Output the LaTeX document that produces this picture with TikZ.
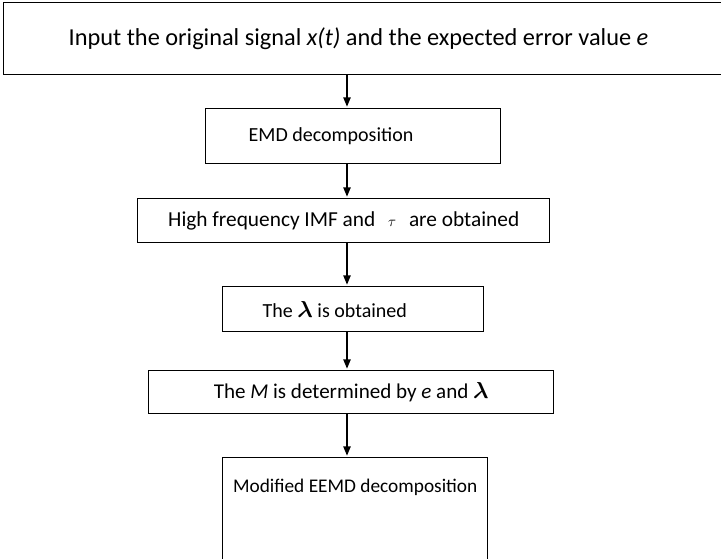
\documentclass[tikz,border=0pt]{standalone}
\usepackage{amsmath}
\usepackage{fontspec}
\setmainfont{Carlito}
\usetikzlibrary{arrows.meta}
\newcommand{\biglam}{{\fontsize{19}{19}\selectfont$\boldsymbol{\lambda}$}}

\begin{document}
\begin{tikzpicture}[x=1pt,y=-1pt,
  stepbox/.style={draw,line width=1.1pt,anchor=north west,align=center,inner sep=0pt,font=\fontsize{14.5}{17}\selectfont},
  flow/.style={line width=1.1pt,-{Triangle[length=7pt,width=5.5pt]},shorten >=1pt}]
\useasboundingbox (0,0) rectangle (540.75,418.5);
\clip (0,0) rectangle (540.75,418.5);
\coordinate (ax) at (260.25,0);
% steps, top to bottom
\node[stepbox,align=flush left,font=\fontsize{18.25}{22}\selectfont,inner xsep=48.75pt,text width=470.25pt,minimum height=54pt] (inp) at (2.25,1.5) {Input the original signal \textit{x(t)} and the expected error value \textit{e}};
\node[stepbox,align=flush left,font=\fontsize{15}{18}\selectfont,inner xsep=32.25pt,text width=156.75pt,minimum height=41.25pt] (emd) at (153.75,81) {EMD decomposition};
\node[stepbox,font=\fontsize{16}{19}\selectfont,minimum width=309pt,minimum height=33pt] (imf) at (102.75,148.5) {High frequency IMF and\hspace{.6em}$\scriptstyle\tau$\hspace{.6em}are obtained};
\node[stepbox,align=flush left,font=\fontsize{15}{18}\selectfont,inner xsep=30pt,text width=135.75pt,minimum height=33.75pt] (lam) at (166.5,214.5) {The \biglam{} is obtained};
\node[stepbox,font=\fontsize{15.8}{18}\selectfont,minimum width=303.75pt,minimum height=32.25pt] (ens) at (111,277.5) {The \textit{M} is determined by \textit{e} and \biglam};
\node[stepbox,minimum width=198.75pt,inner ysep=16.25pt,text height=10pt,text depth=70pt] (eemd) at (166.5,342.75) {Modified EEMD decomposition};
% arrows
\foreach \a/\b in {inp/emd,emd/imf,imf/lam,lam/ens,ens/eemd}{\draw[flow] (\a.south -| ax) -- (\b.north -| ax);}
\end{tikzpicture}
\end{document}
